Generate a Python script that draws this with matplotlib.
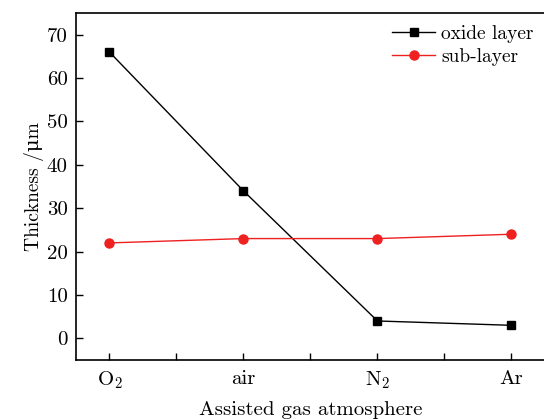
import matplotlib
matplotlib.use("Agg")
import matplotlib.pyplot as plt
import numpy as np

# data
gases = [r"O$_2$", "air", r"N$_2$", "Ar"]
oxide_layer = [66, 34, 4, 3]
sub_layer = [22, 23, 23, 24]

plt.rcParams["font.family"] = ["cmr10", "DejaVu Serif"]
plt.rcParams["mathtext.fontset"] = "cm"
plt.rcParams["axes.unicode_minus"] = False

fig = plt.figure(figsize=(5.44, 4.19), dpi=100)
ax = fig.add_axes([0.1397, 0.1408, 0.862, 0.828])

x = np.arange(len(gases))
ax.plot(x, oxide_layer, color="black", lw=1.0, marker="s", ms=5.5, label="oxide layer")
ax.plot(x, sub_layer, color="#ee2020", lw=1.0, marker="o", ms=6.5, label="sub-layer")

ax.set_xlim(-0.25, 3.25)
ax.set_ylim(-5, 75)
ax.set_xticks(x)
ax.set_xticklabels(gases)
ax.set_xticks(x[:-1] + 0.5, minor=True)
ax.set_yticks(range(0, 71, 10))
ax.tick_params(direction="in", length=5, width=1, labelsize=15)
ax.tick_params(axis="x", which="minor", direction="in", length=5, width=1)
ax.tick_params(axis="x", pad=7)
ax.tick_params(axis="y", pad=6)
for s in ax.spines.values():
    s.set_linewidth(1.2)

ax.set_xlabel("Assisted gas atmosphere", fontsize=15, labelpad=7)
ax.set_ylabel("Thickness /\u03bcm", fontsize=14, labelpad=2)

ax.legend(loc="upper right", frameon=False, fontsize=14, handlelength=2.2,
          handletextpad=0.3, borderaxespad=0.2, labelspacing=0.25)

fig.savefig("out.png", dpi=100)
